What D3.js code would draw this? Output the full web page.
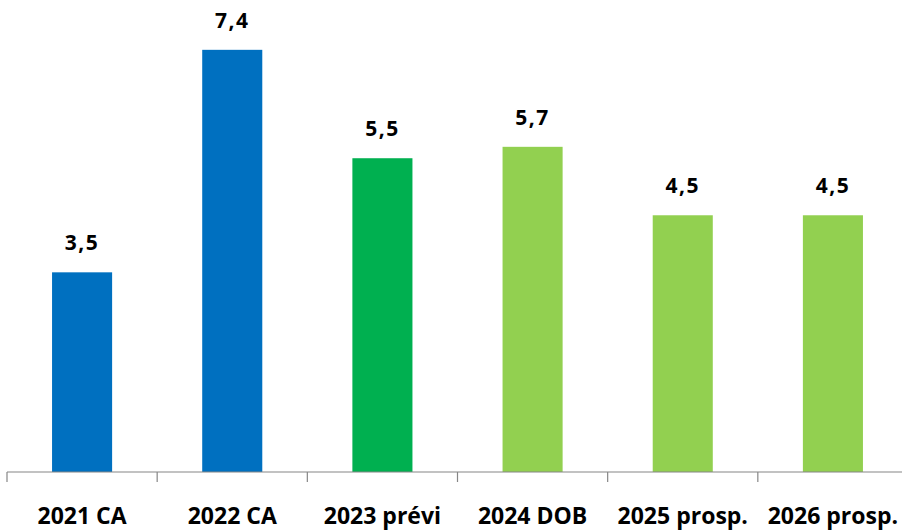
<!DOCTYPE html>
<html><head><meta charset="utf-8">
<script src="https://cdn.jsdelivr.net/npm/d3@7"></script>
<style>body{margin:0;background:#fff}svg{display:block}</style>
</head><body>
<svg id="c" width="902" height="532"></svg>
<script>
const categories = ["2021 CA","2022 CA","2023 prévi","2024 DOB","2025 prosp.","2026 prosp."];
const values = [3.5,7.4,5.5,5.7,4.5,4.5];
const valueLabels = ["3,5","7,4","5,5","5,7","4,5","4,5"];
const barColors = ["#0070C0","#0070C0","#00B050","#92D050","#92D050","#92D050"];

const svg = d3.select("#c");
const baseY = 472;
const x = d3.scaleBand().domain(categories).range([7, 908]).paddingInner(0.6).paddingOuter(0.3);
const y = d3.scaleLinear().domain([0, 8]).range([baseY, baseY - 8*57.05]);
const font = "'Open Sans', sans-serif";

svg.selectAll("rect.bar").data(values).join("rect")
  .attr("class","bar")
  .attr("x",(d,i)=>x(categories[i]))
  .attr("width",x.bandwidth())
  .attr("y",d=>y(d))
  .attr("height",d=>baseY - y(d))
  .attr("fill",(d,i)=>barColors[i]);

svg.selectAll("text.val").data(values).join("text")
  .attr("class","val")
  .attr("x",(d,i)=>x(categories[i]) + x.bandwidth()/2)
  .attr("y",d=>y(d) - 22)
  .attr("text-anchor","middle")
  .attr("font-family",font).attr("font-weight","bold").attr("font-size",21)
  .attr("letter-spacing",1.5)
  .attr("fill","#000")
  .text((d,i)=>valueLabels[i]);

// axis
const step = x.step();
const start = 7;
const tickXs = categories.map((c,i)=> start + i*step);
const ax = svg.append("g");
ax.append("line").attr("x1",7).attr("x2",902).attr("y1",baseY).attr("y2",baseY)
  .attr("stroke","#868686").attr("stroke-width",1.2);
ax.selectAll("line.t").data(tickXs).join("line").attr("class","t")
  .attr("x1",d=>d).attr("x2",d=>d).attr("y1",baseY).attr("y2",baseY+10)
  .attr("stroke","#868686").attr("stroke-width",1.2);
ax.selectAll("text.cat").data(categories).join("text").attr("class","cat")
  .attr("x",d=>x(d)+x.bandwidth()/2)
  .attr("y",524)
  .attr("text-anchor","middle")
  .attr("font-family",font).attr("font-weight","bold").attr("font-size",23)
  .attr("fill","#000")
  .text(d=>d);
</script>
</body></html>
